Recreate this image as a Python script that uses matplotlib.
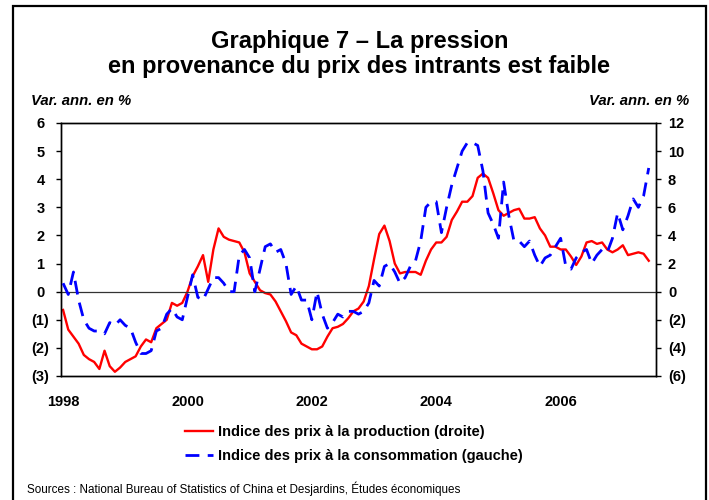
import numpy as np
import matplotlib
matplotlib.use("Agg")
import matplotlib.pyplot as plt
from matplotlib.patches import Rectangle
from matplotlib.ticker import FuncFormatter

plt.rcParams['font.family'] = ['Liberation Sans', 'DejaVu Sans']

# monthly, Jan 1998 .. Jun 2007
ppi = [-1.3, -2.7, -3.2, -3.7, -4.5, -4.8, -5.0, -5.5, -4.2, -5.3, -5.7, -5.4,
       -5.0, -4.8, -4.6, -3.9, -3.4, -3.6, -2.6, -2.3, -2.0, -0.8, -1.0, -0.8,
       0.0, 1.1, 1.8, 2.6, 0.7, 3.0, 4.5, 3.9, 3.7, 3.6, 3.5, 2.8,
       1.3, 0.7, 0.1, -0.1, -0.2, -0.7, -1.4, -2.1, -2.9, -3.1, -3.7, -3.9,
       -4.1, -4.1, -3.9, -3.2, -2.6, -2.5, -2.3, -1.9, -1.4, -1.2, -0.7, 0.4,
       2.3, 4.1, 4.7, 3.6, 2.0, 1.3, 1.4, 1.4, 1.4, 1.2, 2.2, 3.0,
       3.5, 3.5, 3.9, 5.1, 5.7, 6.4, 6.4, 6.8, 8.1, 8.4, 8.1, 7.0,
       5.8, 5.4, 5.6, 5.8, 5.9, 5.2, 5.2, 5.3, 4.5, 4.0, 3.2, 3.2,
       3.0, 3.0, 2.5, 1.9, 2.5, 3.5, 3.6, 3.4, 3.5, 3.0, 2.8, 3.0,
       3.3, 2.6, 2.7, 2.8, 2.7, 2.2]
cpi = [0.3, -0.1, 0.7, -0.3, -1.0, -1.3, -1.4, -1.4, -1.5, -1.1, -1.2, -1.0,
       -1.2, -1.3, -1.8, -2.2, -2.2, -2.1, -1.4, -1.3, -0.8, -0.6, -0.9, -1.0,
       -0.2, 0.6, -0.2, -0.3, 0.1, 0.5, 0.5, 0.3, 0.0, 0.0, 1.3, 1.5,
       1.2, 0.0, 0.8, 1.6, 1.7, 1.4, 1.5, 1.0, -0.1, 0.2, -0.3, -0.3,
       -1.0, 0.0, -0.8, -1.3, -1.1, -0.8, -0.9, -0.7, -0.7, -0.8, -0.7, -0.4,
       0.4, 0.2, 0.9, 1.0, 0.7, 0.3, 0.5, 0.9, 1.1, 1.8, 3.0, 3.2,
       3.2, 2.1, 3.0, 3.8, 4.4, 5.0, 5.3, 5.3, 5.2, 4.3, 2.8, 2.4,
       1.9, 3.9, 2.7, 1.8, 1.8, 1.6, 1.8, 1.3, 0.9, 1.2, 1.3, 1.6,
       1.9, 0.9, 0.8, 1.2, 1.4, 1.5, 1.0, 1.3, 1.5, 1.4, 1.9, 2.8,
       2.2, 2.7, 3.3, 3.0, 3.4, 4.4]
years = ['1998', '2000', '2002', '2004', '2006']

months = np.arange(len(cpi))


def paren_left(v, pos):  # Excel style, digits aligned with the paren hanging out
    v = int(round(v))
    return '(%d)' % -v if v < 0 else '%d ' % v


def paren_right(v, pos):
    v = int(round(v))
    return '(%d)' % -v if v < 0 else '%d' % v


fig = plt.figure(figsize=(7.09, 5.0), dpi=100)
fig.patches.append(Rectangle((13 / 709, -0.02), 693 / 709, 1.008, transform=fig.transFigure,
                             fill=False, edgecolor='black', linewidth=1.6))

ax = fig.add_axes([61 / 709, 1 - 376 / 500, 595 / 709, 253 / 500])
ax2 = ax.twinx()

ax.axhline(0, color='#333333', linewidth=0.9, zorder=1)
l2, = ax.plot(months, cpi, color='#0000ff', linewidth=2.0, dashes=(5, 3), zorder=3)
l1, = ax2.plot(months, ppi, color='#ff0000', linewidth=1.7, zorder=2)
ax.set_zorder(ax2.get_zorder() + 1)
ax.patch.set_visible(False)

ax.set_xlim(-0.4, 114.4)
ax.set_ylim(-3, 6)
ax2.set_ylim(-6, 12)
ax.set_yticks(range(-3, 7))
ax2.set_yticks(range(-6, 13, 2))
ax.yaxis.set_major_formatter(FuncFormatter(paren_left))
ax2.yaxis.set_major_formatter(FuncFormatter(paren_right))
ax.set_xticks(range(0, 97, 24))
ax.set_xticklabels(years)

for a in (ax, ax2):
    for s in a.spines.values():
        s.set_linewidth(1.0)
    a.tick_params(axis='y', length=3.6, width=1.0, labelsize=10.5, pad=5)
    for t in a.get_yticklabels():
        t.set_fontweight('bold')
ax.tick_params(axis='x', length=0, labelsize=10.5, pad=14)
for t in ax.get_xticklabels():
    t.set_fontweight('bold')

fig.text(0.507, 1 - 48 / 500, 'Graphique 7 – La pression', ha='center', va='baseline',
         fontsize=17, fontweight='bold')
fig.text(0.507, 1 - 73 / 500, 'en provenance du prix des intrants est faible', ha='center',
         va='baseline', fontsize=17, fontweight='bold')
fig.text(31 / 709, 1 - 101 / 500, 'Var. ann. en %', ha='left', va='center', fontsize=10.7,
         fontweight='bold', fontstyle='italic')
fig.text(689 / 709, 1 - 101 / 500, 'Var. ann. en %', ha='right', va='center', fontsize=10.7,
         fontweight='bold', fontstyle='italic')

fig.legend([l1, l2], ['Indice des prix à la production (droite)',
                      'Indice des prix à la consommation (gauche)'],
           loc='upper left', bbox_to_anchor=(179 / 709, 1 - 419 / 500), frameon=False,
           prop={'size': 10.5, 'weight': 'bold'}, handlelength=1.95, handletextpad=0.3,
           labelspacing=0.7, borderaxespad=0)

fig.text(27 / 709, 1 - 489 / 500,
         'Sources : National Bureau of Statistics of China et Desjardins, Études économiques',
         ha='left', va='center', fontsize=8.4)

fig.savefig('out.png', dpi=100)
